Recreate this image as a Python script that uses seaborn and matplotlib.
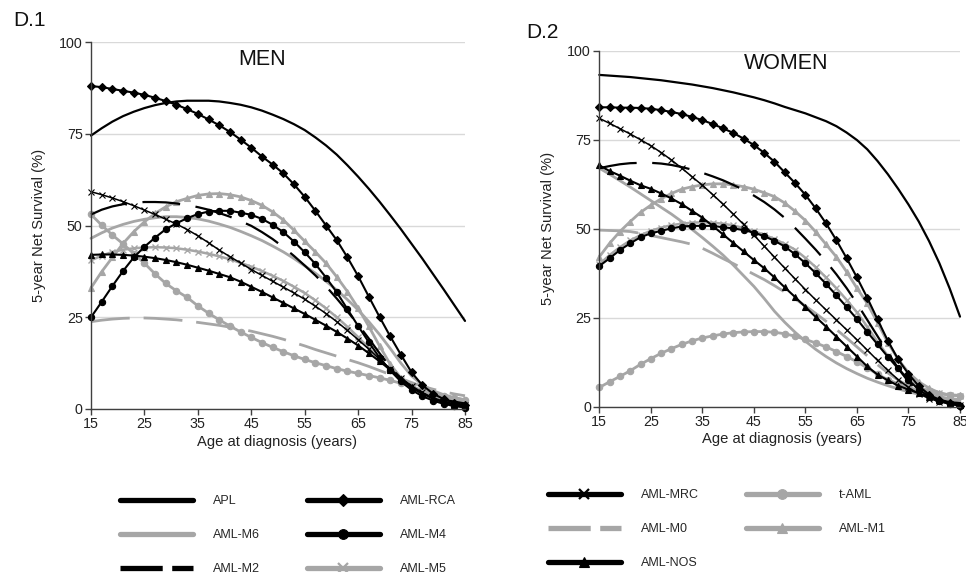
import matplotlib
matplotlib.use("Agg")
import matplotlib.pyplot as plt
from matplotlib.lines import Line2D
import seaborn as sns

# ages at diagnosis (every 2 years)
ages = list(range(15, 86, 2))

# MEN - 5-year net survival (%)
apl_m = [74.5, 76.5, 78.3, 79.8, 81.0, 82.0, 82.8, 83.4, 83.8, 84.0, 84.0, 84.0, 83.8, 83.4, 82.9, 82.2, 81.3, 80.2,
         79.0, 77.6, 76.0, 74.0, 71.8, 69.3, 66.4, 63.3, 60.0, 56.5, 52.8, 49.0, 45.0, 41.0, 36.8, 32.6, 28.3, 24.0]
rca_m = [88.0, 87.7, 87.2, 86.7, 86.2, 85.6, 84.8, 83.9, 82.9, 81.7, 80.4, 78.9, 77.3, 75.5, 73.4, 71.2, 68.8, 66.6,
         64.2, 61.2, 57.8, 54.0, 50.0, 46.0, 41.3, 36.2, 30.6, 25.1, 19.8, 14.8, 10.0, 6.5, 4.2, 2.7, 1.7, 1.0]
m6_m = [46.5, 48.0, 49.3, 50.3, 51.1, 51.7, 52.1, 52.4, 52.4, 52.2, 51.8, 51.2, 50.4, 49.5, 48.4, 47.2, 45.9, 44.4,
        42.8, 41.0, 39.0, 37.0, 34.8, 32.4, 29.8, 27.0, 23.8, 20.3, 16.5, 12.5, 9.0, 6.6, 5.0, 3.9, 3.1, 2.5]
m4_m = [25.0, 29.2, 33.5, 37.6, 41.3, 44.2, 46.7, 49.0, 50.6, 52.0, 53.1, 53.8, 54.0, 54.0, 53.5, 52.9, 51.8, 50.2,
        48.2, 45.6, 42.7, 39.5, 35.8, 31.8, 27.2, 22.6, 18.2, 14.0, 10.5, 7.5, 5.2, 3.5, 2.3, 1.4, 0.8, 0.4]
m2_m = [53.0, 54.3, 55.2, 55.8, 56.2, 56.4, 56.4, 56.3, 56.0, 55.6, 55.0, 54.3, 53.4, 52.4, 51.2, 49.9, 48.2, 46.3,
        44.1, 41.7, 39.1, 36.4, 33.4, 30.1, 26.6, 23.0, 19.2, 15.2, 11.5, 8.3, 5.8, 4.2, 3.2, 2.5, 2.0, 1.5]
m5_m = [40.5, 41.8, 42.8, 43.4, 43.8, 44.0, 44.1, 44.0, 43.8, 43.4, 42.9, 42.3, 41.6, 40.8, 39.8, 38.8, 37.6, 36.3,
        34.9, 33.3, 31.6, 29.6, 27.4, 25.0, 22.4, 19.6, 16.6, 13.5, 10.6, 8.0, 6.0, 4.6, 3.6, 2.9, 2.4, 2.0]
mrc_m = [59.2, 58.4, 57.5, 56.5, 55.4, 54.2, 53.0, 51.7, 50.4, 48.9, 47.2, 45.3, 43.3, 41.5, 39.8, 38.0, 36.4, 34.8,
         33.2, 31.6, 29.9, 28.0, 26.0, 23.8, 21.4, 18.9, 16.3, 13.6, 11.0, 8.5, 6.3, 4.5, 3.1, 2.1, 1.4, 1.0]
m0_m = [23.8, 24.2, 24.5, 24.7, 24.8, 24.8, 24.7, 24.5, 24.3, 24.0, 23.6, 23.2, 22.8, 22.3, 21.8, 21.2, 20.5, 19.8,
        19.0, 18.1, 17.2, 16.2, 15.3, 14.4, 13.5, 12.6, 11.6, 10.5, 9.4, 8.3, 7.2, 6.2, 5.4, 4.7, 4.1, 3.6]
nos_m = [42.0, 42.1, 42.1, 42.0, 41.8, 41.5, 41.1, 40.6, 40.0, 39.3, 38.5, 37.7, 36.8, 35.9, 34.7, 33.3, 31.9, 30.4,
         28.9, 27.4, 25.9, 24.3, 22.7, 21.0, 19.2, 17.3, 15.2, 13.0, 10.7, 8.3, 6.0, 4.2, 2.8, 1.8, 1.1, 0.7]
tam_m = [53.0, 50.1, 47.4, 45.0, 42.3, 39.7, 36.8, 34.2, 32.2, 30.4, 28.1, 26.1, 24.3, 22.6, 21.0, 19.5, 18.1, 16.8,
         15.6, 14.5, 13.5, 12.6, 11.8, 11.0, 10.3, 9.7, 9.1, 8.5, 7.8, 7.0, 6.1, 5.1, 4.2, 3.5, 3.0, 2.5]
m1_m = [33.0, 37.4, 41.3, 45.1, 48.3, 51.0, 53.3, 55.1, 56.5, 57.4, 58.2, 58.6, 58.7, 58.4, 57.8, 56.8, 55.5, 53.7,
        51.5, 48.7, 45.7, 42.8, 39.7, 36.0, 32.0, 27.5, 22.5, 17.2, 12.2, 8.5, 6.0, 4.5, 3.5, 2.8, 2.3, 2.0]

# WOMEN - 5-year net survival (%)
apl_w = [93.2, 93.0, 92.8, 92.6, 92.3, 92.0, 91.7, 91.3, 90.9, 90.5, 90.0, 89.5, 88.9, 88.3, 87.6, 86.9, 86.1, 85.2,
         84.2, 83.3, 82.4, 81.3, 80.2, 78.8, 77.0, 74.9, 72.3, 69.0, 65.3, 61.2, 56.8, 52.0, 46.5, 40.3, 33.2, 25.3]
rca_w = [84.1, 84.1, 84.0, 84.0, 83.9, 83.7, 83.3, 82.8, 82.2, 81.4, 80.5, 79.4, 78.2, 76.9, 75.3, 73.5, 71.3, 68.8,
         65.8, 62.8, 59.5, 55.7, 51.5, 46.8, 41.7, 36.3, 30.6, 24.5, 18.5, 13.3, 9.2, 5.8, 3.4, 1.9, 0.9, 0.3]
m6_w = [67.0, 65.3, 63.5, 61.7, 59.8, 57.9, 56.0, 54.1, 52.0, 49.8, 47.5, 45.1, 42.6, 39.8, 36.8, 33.8, 30.4, 26.8,
        23.7, 20.9, 18.4, 16.1, 14.1, 12.3, 10.7, 9.3, 8.0, 6.9, 5.9, 5.0, 4.2, 3.5, 2.9, 2.4, 2.0, 1.6]
m4_w = [39.5, 41.7, 44.0, 45.9, 47.6, 48.7, 49.4, 50.1, 50.6, 50.8, 50.8, 50.8, 50.4, 50.1, 49.6, 48.9, 47.9, 46.6,
        45.0, 42.8, 40.3, 37.5, 34.5, 31.3, 28.0, 24.6, 21.0, 17.5, 14.0, 10.8, 7.5, 4.8, 2.9, 1.6, 0.8, 0.3]
m2_w = [67.0, 67.6, 68.1, 68.4, 68.5, 68.5, 68.3, 67.9, 67.3, 66.6, 65.7, 64.7, 63.6, 62.3, 60.9, 59.3, 57.5, 55.4,
        53.0, 50.2, 47.2, 44.1, 40.8, 37.2, 33.3, 29.0, 24.4, 19.8, 15.2, 10.8, 7.0, 4.4, 2.9, 1.9, 1.3, 1.0]
m5_w = [40.0, 42.6, 44.8, 46.7, 48.2, 49.4, 50.3, 51.0, 51.4, 51.7, 51.8, 51.7, 51.4, 50.9, 50.2, 49.3, 48.3, 47.1,
        45.7, 44.1, 41.8, 39.2, 36.3, 33.3, 30.0, 26.5, 22.5, 18.2, 14.3, 10.6, 7.6, 5.5, 4.5, 3.8, 3.3, 3.0]
mrc_w = [81.0, 79.6, 78.1, 76.6, 75.0, 73.3, 71.4, 69.3, 67.0, 64.6, 62.2, 59.6, 56.9, 54.1, 51.2, 48.2, 45.1, 42.0,
         38.9, 35.9, 32.9, 30.0, 27.2, 24.4, 21.6, 18.8, 15.9, 13.0, 10.2, 7.6, 5.4, 3.6, 2.3, 1.4, 0.8, 0.5]
m0_w = [49.6, 49.5, 49.4, 49.2, 48.7, 48.1, 47.5, 46.9, 46.3, 45.6, 44.5, 43.1, 41.6, 40.2, 38.7, 37.2, 35.7, 34.0,
        32.2, 30.3, 28.3, 26.2, 24.0, 21.7, 19.3, 16.8, 14.3, 11.8, 9.5, 7.5, 5.8, 4.5, 3.5, 2.8, 2.3, 2.0]
nos_w = [67.8, 66.2, 64.9, 63.5, 62.2, 61.2, 59.9, 58.5, 56.9, 55.0, 53.1, 50.8, 48.4, 46.0, 43.6, 41.2, 38.9, 36.3,
         33.5, 30.8, 28.0, 25.2, 22.5, 19.7, 16.9, 14.1, 11.3, 9.0, 7.4, 5.9, 4.8, 3.8, 2.8, 1.9, 1.0, 0.5]
tam_w = [5.4, 7.0, 8.5, 10.1, 11.9, 13.5, 15.0, 16.3, 17.5, 18.5, 19.3, 19.9, 20.4, 20.8, 21.0, 21.1, 21.1, 20.9,
         20.5, 19.8, 18.9, 17.9, 16.8, 15.5, 14.1, 12.6, 10.9, 9.1, 7.6, 6.4, 5.4, 4.6, 4.0, 3.6, 3.3, 3.1]
m1_w = [42.1, 45.9, 49.2, 52.0, 54.6, 56.6, 58.4, 59.9, 61.1, 61.8, 62.3, 62.6, 62.6, 62.3, 61.8, 61.1, 60.1, 59.0,
        57.2, 54.9, 52.3, 49.1, 45.6, 42.1, 37.9, 33.3, 29.0, 23.6, 18.0, 13.3, 9.6, 7.0, 5.2, 3.9, 3.3, 3.2]

men = {"APL": apl_m, "AML-RCA": rca_m, "AML-M6": m6_m, "AML-M4": m4_m, "AML-M2": m2_m, "AML-M5": m5_m,
       "AML-MRC": mrc_m, "AML-M0": m0_m, "AML-NOS": nos_m, "t-AML": tam_m, "AML-M1": m1_m}
women = {"APL": apl_w, "AML-RCA": rca_w, "AML-M6": m6_w, "AML-M4": m4_w, "AML-M2": m2_w, "AML-M5": m5_w,
         "AML-MRC": mrc_w, "AML-M0": m0_w, "AML-NOS": nos_w, "t-AML": tam_w, "AML-M1": m1_w}

BLACK = "#000000"
GRAY = "#a6a6a6"

# line styles per subtype (ms = plot marker size, lms = legend marker size)
styles = {
    "APL": dict(color=BLACK, lw=1.6, marker=None, ms=0, lms=0, mew=0, ls="-"),
    "AML-RCA": dict(color=BLACK, lw=1.5, marker="D", ms=4.1, lms=6.3, mew=0.8, ls="-"),
    "AML-M6": dict(color=GRAY, lw=2.0, marker=None, ms=0, lms=0, mew=0, ls="-"),
    "AML-M4": dict(color=BLACK, lw=1.5, marker="o", ms=4.5, lms=7, mew=0.8, ls="-"),
    "AML-M2": dict(color=BLACK, lw=1.6, marker=None, ms=0, lms=0, mew=0, ls=(0, (17, 7))),
    "AML-M5": dict(color=GRAY, lw=1.8, marker="x", ms=4, lms=7, mew=1.0, ls="-"),
    "AML-MRC": dict(color=BLACK, lw=1.1, marker="x", ms=4, lms=7, mew=0.8, ls="-"),
    "AML-M0": dict(color=GRAY, lw=2.0, marker=None, ms=0, lms=0, mew=0, ls=(0, (14, 5))),
    "AML-NOS": dict(color=BLACK, lw=1.5, marker="^", ms=5, lms=7.5, mew=0.8, ls="-"),
    "t-AML": dict(color=GRAY, lw=2.0, marker="o", ms=4.6, lms=7, mew=0.8, ls="-"),
    "AML-M1": dict(color=GRAY, lw=2.0, marker="^", ms=5, lms=7.5, mew=0.8, ls="-"),
}
draw_order = ["AML-M0", "AML-M6", "t-AML", "AML-M5", "AML-M1",
              "AML-M2", "AML-NOS", "AML-MRC", "AML-M4", "AML-RCA", "APL"]

sns.set_theme(style="white")
plt.rcParams["font.family"] = ["Liberation Sans", "DejaVu Sans"]

fig = plt.figure(figsize=(9.66, 5.72), dpi=100)
ax1 = fig.add_axes([91 / 966, (572 - 409) / 572, 374 / 966, 367 / 572])
ax2 = fig.add_axes([599.3 / 966, (572 - 406.7) / 572, 360.7 / 966, 356 / 572])


def draw_panel(ax, data, title, tx, ty):
    for name in draw_order:
        st = styles[name]
        sns.lineplot(x=ages, y=data[name], ax=ax, color=st["color"], linewidth=st["lw"],
                     linestyle=st["ls"], marker=st["marker"], markersize=st["ms"],
                     markeredgecolor=st["color"], markeredgewidth=st["mew"],
                     errorbar=None, legend=False, clip_on=False)
    ax.set_xlim(15, 85)
    ax.set_ylim(0, 100)
    ax.set_xticks(range(15, 86, 10))
    ax.set_yticks([0, 25, 50, 75, 100])
    ax.yaxis.grid(True, color="#d9d9d9", lw=1)
    ax.xaxis.grid(False)
    ax.set_axisbelow(True)
    for s in ["top", "right"]:
        ax.spines[s].set_visible(False)
    for s in ["left", "bottom"]:
        ax.spines[s].set_color("#404040")
        ax.spines[s].set_linewidth(1)
    ax.tick_params(axis="both", length=4, width=1, color="#404040", labelsize=10.3,
                   labelcolor="#222222", pad=2, left=True, bottom=True)
    ax.set_xlabel("Age at diagnosis (years)", fontsize=10.6, color="#222222")
    ax.set_ylabel("5-year Net Survival (%)", fontsize=10.6, color="#222222")
    ax.text(tx, ty, title, transform=ax.transAxes, ha="center", va="center", fontsize=15.5, color="#111111")


draw_panel(ax1, men, "MEN", 0.457, 0.951)
draw_panel(ax2, women, "WOMEN", 0.518, 0.965)
ax1.yaxis.set_label_coords(-0.12, 0.5)
ax2.yaxis.set_label_coords(-0.123, 0.5)
ax1.xaxis.set_label_coords(0.497, -0.072)
ax2.xaxis.set_label_coords(0.506, -0.072)

fig.text(13 / 966, 1 - 20 / 572, "D.1", fontsize=15, va="center", ha="left", color="#111111")
fig.text(526 / 966, 1 - 32 / 572, "D.2", fontsize=15, va="center", ha="left", color="#111111")


def handle(name):
    st = styles[name]
    ls = st["ls"]
    if ls != "-":
        ls = (0, (8, 1.8))
    return Line2D([], [], color=st["color"], lw=3.8, ls=ls, marker=st["marker"],
                  ms=st["lms"], mec=st["color"],
                  mew=1.6 if st["marker"] == "x" else 0.8)


leg_kw = dict(ncol=2, frameon=False, fontsize=9, handlelength=5.8, handletextpad=1.6,
              columnspacing=3.8, labelspacing=1.78, borderpad=0, borderaxespad=0, loc="upper left")
names_left = ["APL", "AML-M6", "AML-M2", "AML-RCA", "AML-M4", "AML-M5"]
names_right = ["AML-MRC", "AML-M0", "AML-NOS", "t-AML", "AML-M1"]
fig.legend([handle(n) for n in names_left], names_left,
           bbox_to_anchor=(120 / 966, 1 - 495 / 572), **leg_kw)
fig.legend([handle(n) for n in names_right], names_right,
           bbox_to_anchor=(548 / 966, 1 - 489 / 572), **leg_kw)

fig.savefig("out.png", dpi=100)
